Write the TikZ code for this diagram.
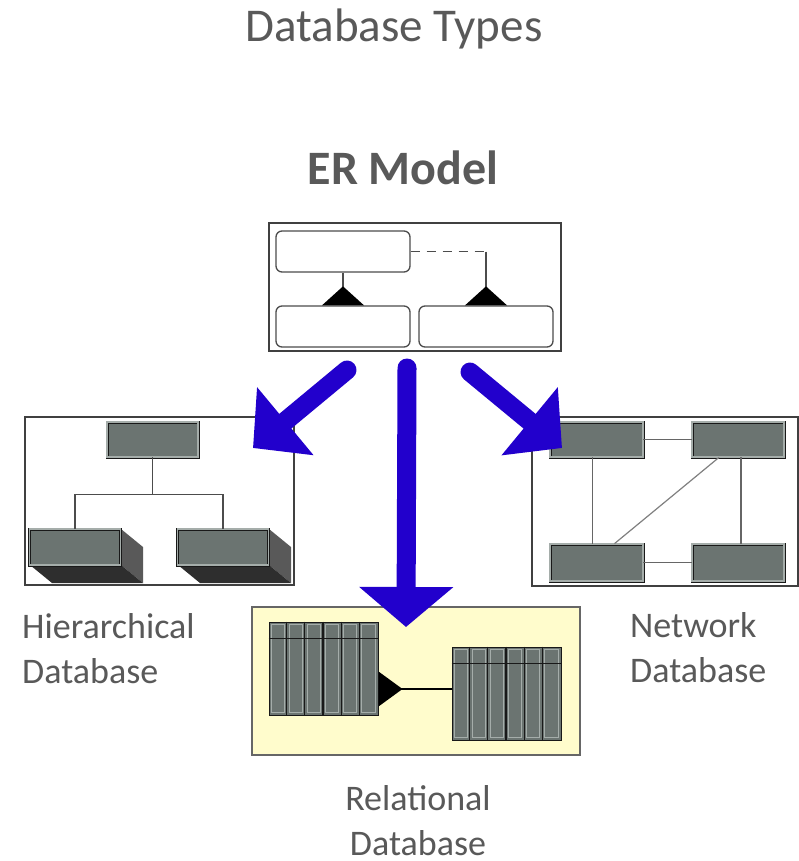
\documentclass[tikz,border=0pt]{standalone}
\usepackage{fontspec}
\setmainfont{Carlito}
\usetikzlibrary{arrows.meta,calc}

\definecolor{labelgray}{RGB}{89,89,89}
\definecolor{slabgray}{RGB}{107,116,113}
\definecolor{slabedge}{RGB}{165,173,170}
\definecolor{arrowblue}{RGB}{34,0,204}
\definecolor{relyellow}{RGB}{255,252,204}

\tikzset{
    panel/.style={draw=black!75, line width=1.3pt, inner sep=0pt},
    entity/.style={draw=black!70, line width=1.3pt, rounded corners=6pt, inner sep=0pt,
        minimum width=134pt, minimum height=41pt},
    slab/.style={draw=black!90, line width=0.8pt, double=slabedge, double distance=1.4pt,
        fill=slabgray, inner sep=0pt},
    link/.style={draw=black!70, line width=1.7pt},
    bigarrow/.style={arrowblue, line width=19pt, line cap=round,
        -{Triangle[length=42pt,width=86pt]}},
    caption/.style={text=labelgray, font=\fontsize{36}{45}\selectfont, inner sep=0pt}
}

\begin{document}
\begin{tikzpicture}[x=1pt, y=-1pt]
            \useasboundingbox[fill=white] (0,0) rectangle (799,861);

            \node[caption, font=\fontsize{47}{56}\selectfont, anchor=base] (title) at (394,42) {Database Types};
            \node[caption, font=\fontsize{48}{58}\bfseries, anchor=base] (ertitle) at (403,185) {ER Model};

            % ER model
            \node[panel, minimum width=292pt, minimum height=128pt] (er) at (415,287) {};
            \node[entity] (erTop) at (343,251.5) {};
            \node[entity] (erLeft) at (343,326.5) {};
            \node[entity] (erRight) at (486,326.5) {};
            \draw[link] (erTop.south) -- (erLeft.north);
            \fill (erLeft.north) ++(-21,0) -- ++(21,-19) -- ++(21,19) -- cycle;
            \draw[link, dashed, dash pattern=on 9pt off 7pt] (erTop.east) -- (erTop.east -| erRight.north);
            \draw[link] (erTop.east -| erRight.north) -- (erRight.north);
            \fill (erRight.north) ++(-21,0) -- ++(21,-19) -- ++(21,19) -- cycle;

            % hierarchical
            \node[panel, minimum width=269pt, minimum height=168pt] (hier) at (159.5,501) {};
            \node[slab, minimum width=91pt, minimum height=35pt] (hTop) at (152.5,439.5) {};
            \foreach \n/\x in {hLeft/75, hRight/223} {
                \path (\x,547) coordinate (\n c);
                \fill[black!65] ($(\n c)+(46,-18)$) -- ++(22,18) -- ++(0,36) -- ++(-22,-18) -- cycle;
                \fill[black!82] ($(\n c)+(-45,18)$) -- ++(91,0) -- ++(22,18) -- ++(-91,0) -- cycle;
                \node[slab, minimum width=91pt, minimum height=36pt] (\n) at (\n c) {};
            }
            \draw[link] (hTop.south) -- ++(0,37) coordinate (hJoin);
            \draw[link] (hLeft.north) |- (hJoin) -| (hRight.north);

            % network
            \node[panel, minimum width=266pt, minimum height=169pt] (net) at (665,501.5) {};
            \node[slab, minimum width=93pt, minimum height=35pt] (nTL) at (596.5,439.5) {};
            \node[slab, minimum width=92pt, minimum height=35pt] (nTR) at (738,439.5) {};
            \node[slab, minimum width=93pt, minimum height=37pt] (nBL) at (596.5,562.5) {};
            \node[slab, minimum width=92pt, minimum height=37pt] (nBR) at (738,562.5) {};
            \draw[link, black!60] (nTL) -- (nTR);
            \draw[link, black!60] (nBL) -- (nBR);
            \draw[link, black!60] ([xshift=-4pt]nTL.south) -- ([xshift=-4pt]nBL.north);
            \draw[link, black!60] ([xshift=3pt]nTR.south) -- ([xshift=3pt]nBR.north);
            \draw[link, black!50, line width=1.2pt] ([xshift=-19pt]nTR.south) -- ([xshift=18pt]nBL.north);

            % relational
            \node[panel, draw=black!60, fill=relyellow, minimum width=328pt, minimum height=148pt] (rel) at (416,681) {};
            \node[draw=black!90, line width=1pt, fill=slabgray, inner sep=0pt,
                minimum width=109pt, minimum height=93pt] (relL) at (323.5,668.5) {};
            \node[draw=black!90, line width=1pt, fill=slabgray, inner sep=0pt,
                minimum width=109pt, minimum height=93pt] (relR) at (506.5,693.5) {};
            \foreach \t in {relL, relR} {
                \foreach \i in {0,...,5}
                    \draw[slabedge, line width=1pt] ($(\t.north west)+(\i*109/6+2.5,2.5)$)
                        rectangle ($(\t.north west)+(\i*109/6+109/6-2.5,90.5)$);
                \foreach \i in {1,...,5}
                    \draw[black!90, line width=1.2pt] ($(\t.north west)+(\i*109/6,0)$) -- ($(\t.south west)+(\i*109/6,0)$);
                \draw[black!90, line width=1.2pt] ($(\t.north west)+(0,17)$) -- ($(\t.north east)+(0,17)$);
            }
            \coordinate (relJoin) at ([yshift=-20.5pt]relL.east);
            \draw[black, line width=1.2pt] (relJoin) -- (relJoin -| relR.west);
            \fill (relJoin) ++(0,-17.5) -- ++(24,17.5) -- ++(-24,17.5) -- cycle;

            % captions
            \node[caption, align=left, anchor=base west] (hierText) at (22,683) {Hierarchical\\Database};
            \node[caption, align=left, anchor=base west] (netText) at (630,682) {Network\\Database};
            \node[caption, align=center, anchor=base, text depth=0pt] (relText) at (418,855) {Relational\\Database};

            % arrows
            \coordinate (lTail) at (347,370);
            \coordinate (lTip) at (253,448);
            \coordinate (mTail) at (407,368);
            \coordinate (mTip) at (406,627);
            \coordinate (rTail) at (470,372);
            \coordinate (rTip) at (562,448);
            \draw[bigarrow] (lTail) -- (lTip);
            \draw[bigarrow, -{Triangle[length=40pt,width=92pt]}] (mTail) -- (mTip);
            \draw[bigarrow] (rTail) -- (rTip);
\end{tikzpicture}
\end{document}
